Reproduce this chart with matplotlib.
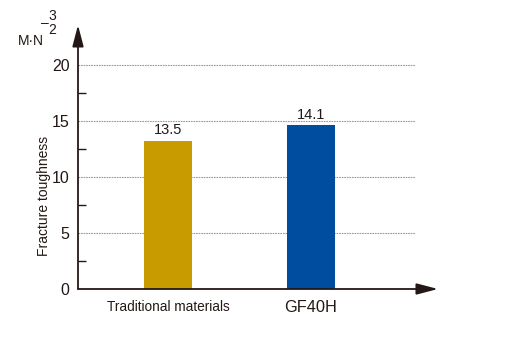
import matplotlib.pyplot as plt

categories = ['Traditional materials', 'GF40H']
heights = [13.2, 14.6]          # bar tops as drawn in the picture
value_labels = ['13.5', '14.1']  # printed values
bar_colors = ['#C89B00', '#004C9E']
y_ticks = [0, 5, 10, 15, 20]
minor_ticks = [2.5, 7.5, 12.5, 17.5]

plt.rcParams['font.family'] = ['Liberation Sans', 'DejaVu Sans']
ink = '#231815'

fig = plt.figure(figsize=(5.14, 3.58), dpi=100)
W, H = 514, 358
ax = fig.add_axes([78 / W, 1 - 289 / H, (438 - 78) / W, (289 - 25) / H])

x = list(range(len(categories)))
ax.bar(x, heights, width=0.33, color=bar_colors, zorder=3)
for xi, h, lab in zip(x, heights, value_labels):
    ax.text(xi, h + 0.35, lab, ha='center', va='bottom', fontsize=10.5, color=ink)

ax.set_xlim(-0.629, 1.888)
ax.set_ylim(0, 23.57)

# dashed gridlines
ax.hlines(y_ticks[1:], -0.629, 1.727, colors='#9a9a9a', linestyles=(0, (1.5, 0.8)),
          linewidth=0.8, zorder=1)

for s in ax.spines.values():
    s.set_visible(False)

ax.set_yticks(y_ticks)
ax.set_yticklabels([str(t) for t in y_ticks], fontsize=11.5, color=ink)
ax.set_yticks(minor_ticks, minor=True)
ax.tick_params(axis='y', which='major', length=0, pad=6)
ax.tick_params(axis='y', which='minor', direction='in', length=6, width=1, color=ink)
ax.set_xticks(x)
ax.set_xticklabels(categories, color=ink)
ax.get_xticklabels()[0].set_fontsize(9.8)
ax.get_xticklabels()[1].set_fontsize(11.8)
ax.tick_params(axis='x', length=0, pad=8)

# axis arrows
arrow = dict(arrowstyle='-|>,head_length=0.65,head_width=0.17', color=ink, lw=1.3,
             mutation_scale=20, shrinkA=0, shrinkB=0)
ax.annotate('', xy=(0, 1), xytext=(0, 0), xycoords='axes fraction', arrowprops=arrow)
ax.annotate('', xy=(1, 0), xytext=(0, 0), xycoords='axes fraction', arrowprops=arrow)

ax.set_ylabel('Fracture toughness', fontsize=10, color=ink)
ax.yaxis.set_label_coords((51 - 78) / 360, (289 - 196) / 264)

# unit label  M·N^(-3/2)
fig.text(18 / W, 1 - 41 / H, 'M·N', fontsize=10, color=ink, va='center', ha='left')
fig.text(45 / W, 1 - 23 / H, '\u2013', fontsize=10, color=ink, va='center', ha='center')
fig.text(52 / W, 1 - 16 / H, '3', fontsize=10, color=ink, va='center', ha='center')
fig.text(52 / W, 1 - 30 / H, '2', fontsize=10, color=ink, va='center', ha='center')

fig.savefig('out.png', dpi=100)
